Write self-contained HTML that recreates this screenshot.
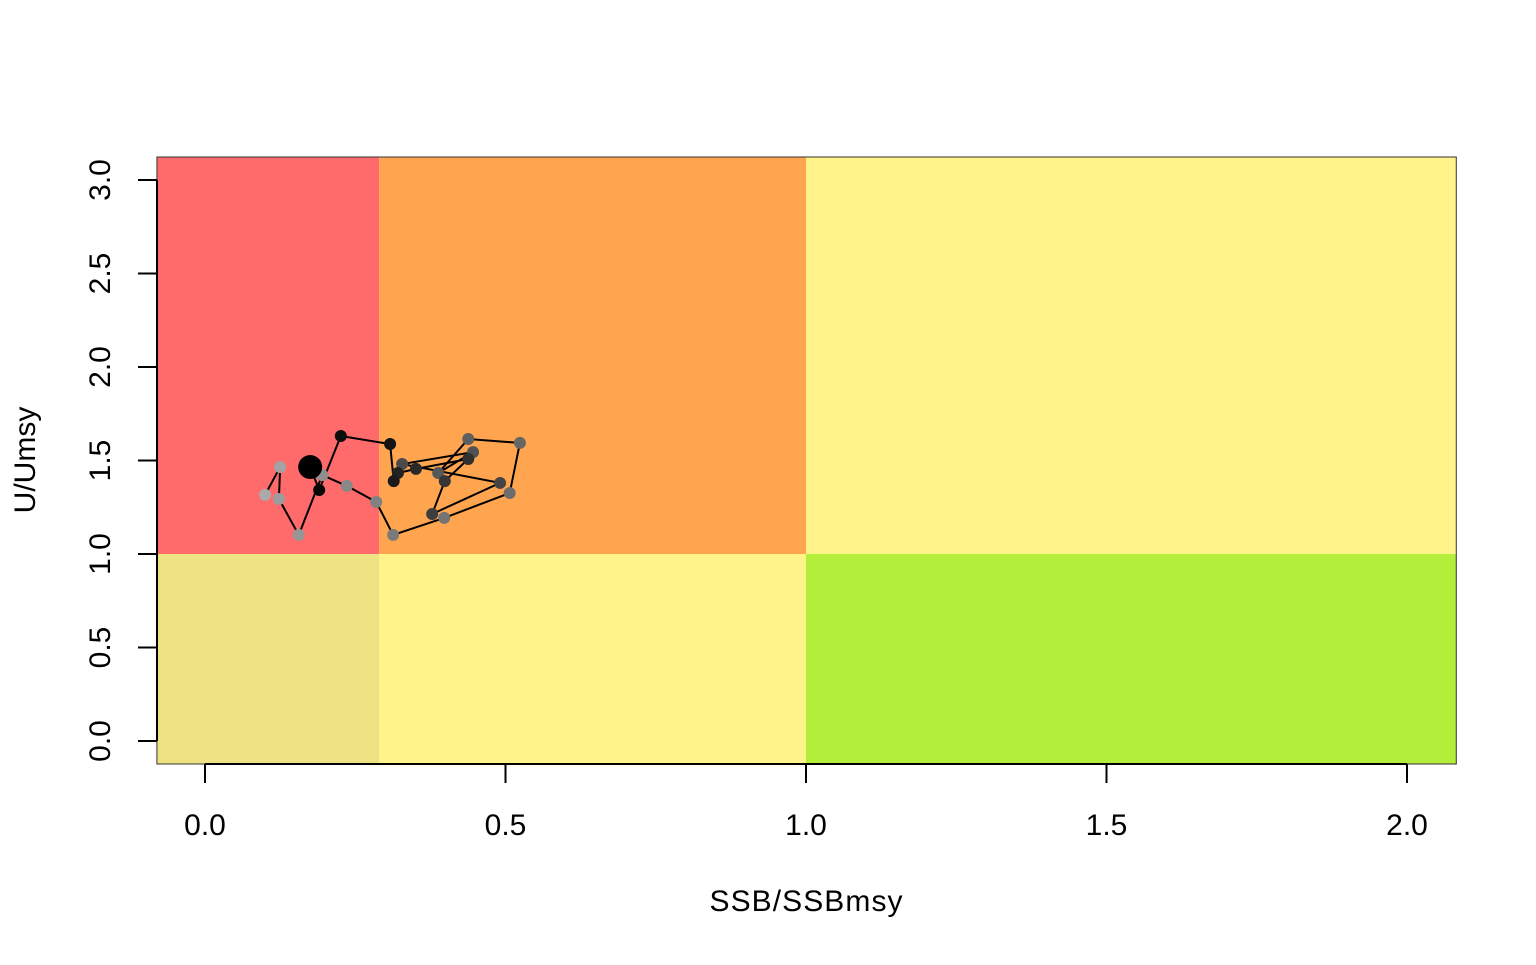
<!DOCTYPE html>
<html><head><meta charset="utf-8"><style>
body{margin:0;background:#fff}
svg text{font-family:"Liberation Sans",sans-serif;font-size:30px;fill:#000}
</style></head><body>
<svg id="chart" width="1536" height="960">
<g id="zones"></g><g id="axes"></g><g id="traj"></g>
<text x="806" y="911" text-anchor="middle" textLength="193">SSB/SSBmsy</text>
<text transform="translate(35,460) rotate(-90)" text-anchor="middle">U/Umsy</text>
</svg>
<script>
const xTicks=[0,0.5,1,1.5,2];
const xTickLabels=["0.0","0.5","1.0","1.5","2.0"];
const yTicks=[0,0.5,1,1.5,2,2.5,3];
const yTickLabels=["0.0","0.5","1.0","1.5","2.0","2.5","3.0"];
const ssb=[0.100,0.125,0.123,0.156,0.195,0.236,0.285,0.313,0.398,0.507,0.524,0.438,0.388,0.446,0.328,0.491,0.378,0.399,0.438,0.351,0.321,0.314,0.308,0.226,0.190,0.175];
const u=[1.316,1.465,1.294,1.102,1.422,1.364,1.278,1.102,1.193,1.326,1.594,1.615,1.433,1.545,1.481,1.380,1.214,1.390,1.508,1.455,1.433,1.390,1.588,1.631,1.342,1.465];
const xLim=[-0.08,2.082], yLim=[-0.123,3.123];
const X=v=>205+(v-0)*601, Y=v=>741-v*187;
const NS="http://www.w3.org/2000/svg";
function mk(p,t,a){const e=document.createElementNS(NS,t);for(const k in a)e.setAttribute(k,a[k]);p.appendChild(e);return e;}
const zones=document.getElementById('zones'),axes=document.getElementById('axes'),traj=document.getElementById('traj');
const zdef=[[xLim[0],0.29,1,yLim[1],'#FF6B6B','zone-red'],[0.29,1,1,yLim[1],'#FFA550','zone-orange'],[1,xLim[1],1,yLim[1],'#FFF38A','zone-yellow-top'],
[xLim[0],0.29,yLim[0],1,'#EEE383','zone-khaki'],[0.29,1,yLim[0],1,'#FFF38A','zone-yellow-bottom'],[1,xLim[1],yLim[0],1,'#B3EE3A','zone-green']];
zdef.forEach(z=>{const r=mk(zones,'rect',{x:X(z[0]),y:Y(z[3]),width:X(z[1])-X(z[0]),height:Y(z[2])-Y(z[3]),fill:z[4]});

});
const box=mk(zones,'rect',{x:X(xLim[0]),y:Y(yLim[1]),width:X(xLim[1])-X(xLim[0]),height:Y(yLim[0])-Y(yLim[1]),fill:'none',stroke:'#333','stroke-width':1});


mk(axes,'line',{x1:X(xTicks[0]),x2:X(xTicks[xTicks.length-1]),y1:764,y2:764,stroke:'#000','stroke-width':2});
xTicks.forEach((t,i)=>{mk(axes,'line',{x1:X(t),x2:X(t),y1:764,y2:783,stroke:'#000','stroke-width':2});
const tx=mk(axes,'text',{x:X(t),y:835,'text-anchor':'middle'});tx.textContent=xTickLabels[i];

});
mk(axes,'line',{x1:157,x2:157,y1:Y(yTicks[0]),y2:Y(yTicks[yTicks.length-1]),stroke:'#000','stroke-width':2});
yTicks.forEach((t,i)=>{mk(axes,'line',{x1:138,x2:157,y1:Y(t),y2:Y(t),stroke:'#000','stroke-width':2});
const tx=mk(axes,'text',{transform:`translate(110,${Y(t)}) rotate(-90)`,'text-anchor':'middle'});tx.textContent=yTickLabels[i];

});
const pts=ssb.map((s,i)=>X(s)+','+Y(u[i])).join(' ');
const pl=mk(traj,'polyline',{points:pts,fill:'none',stroke:'#000','stroke-width':2});


const n=ssb.length;
ssb.forEach((s,i)=>{const g=Math.round(170-170*i/(n-1));const last=i===n-1;
const c=mk(traj,'circle',{cx:X(s),cy:Y(u[i]),r:last?12:6,fill:`rgb(${g},${g},${g})`});

});
</script>
</body></html>
